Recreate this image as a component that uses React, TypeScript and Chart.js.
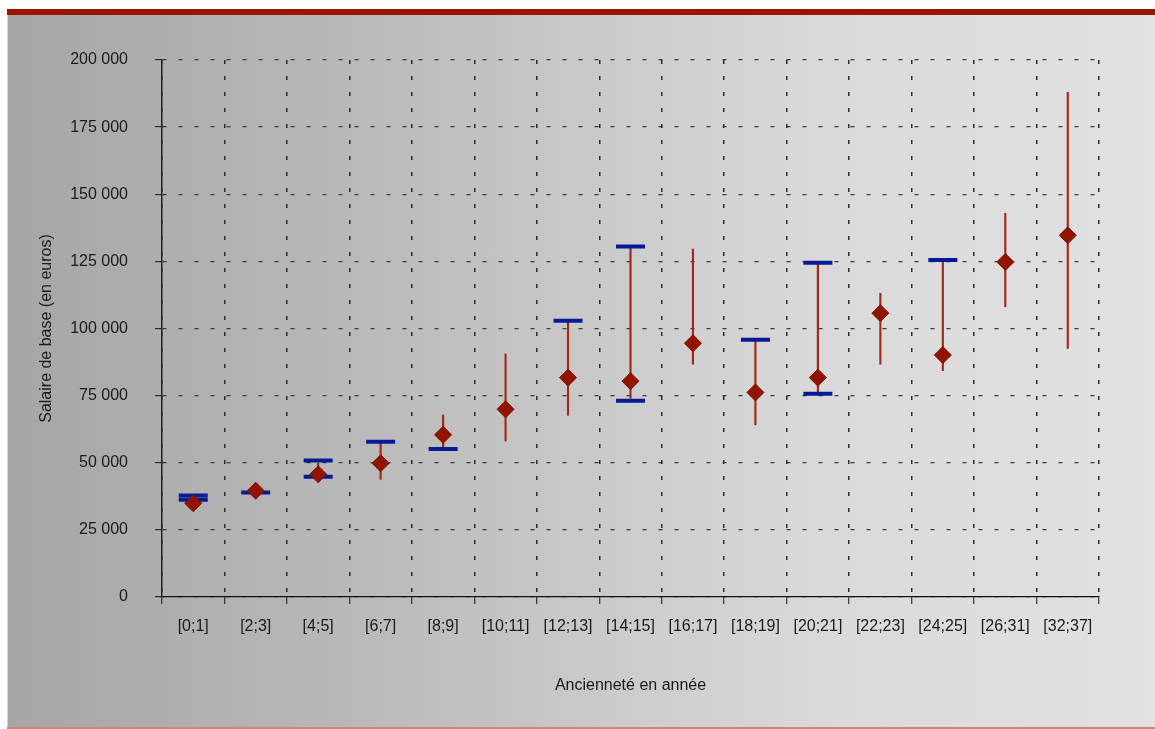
import React, { useEffect, useRef } from "react";
import { Chart, registerables } from "chart.js";

Chart.register(...registerables);

const categories = ["[0;1]", "[2;3]", "[4;5]", "[6;7]", "[8;9]", "[10;11]", "[12;13]", "[14;15]", "[16;17]", "[18;19]", "[20;21]", "[22;23]", "[24;25]", "[26;31]", "[32;37]"];
const moyenne = [34900, 39600, 45700, 49800, 60400, 69900, 81700, 80400, 94500, 76200, 81700, 105700, 90100, 124800, 134700];
const minimum = [null, null, 45000, 43800, 55500, 58100, 67700, 74000, 86700, 64100, 75700, 86700, 84300, 108100, 92600];
const maximum = [null, null, 49900, 57800, 67800, 90500, 102800, 130500, 129600, 95800, 124500, 113100, 125500, 142900, 188000];
const repereHaut = [37800, 38900, 50800, 57800, 55100, null, 102900, 130500, null, 95800, 124500, null, 125500, null, null];
const repereBas = [36200, null, 44800, null, null, null, null, 73100, null, null, 75700, null, null, null, null];
const yTicks = [0, 25000, 50000, 75000, 100000, 125000, 150000, 175000, 200000];

const FONT = "'Liberation Sans', Arial, sans-serif";
const fmt = (v: number) => String(v).replace(/\B(?=(\d{3})+(?!\d))/g, " ");

export default function App() {
  const ref = useRef<HTMLCanvasElement | null>(null);
  useEffect(() => {
    if (!ref.current) return;
    const ranges = categories.map((_, i) =>
      minimum[i] == null || maximum[i] == null ? null : [minimum[i] as number, maximum[i] as number]
    );
    const chart = new Chart(ref.current, {
      type: "bar",
      data: {
        labels: categories,
        datasets: [
          {
            type: "line",
            label: "Moyenne",
            data: moyenne,
            showLine: false,
            pointStyle: "rectRot",
            pointRadius: 8.5,
            backgroundColor: "#921400",
            borderColor: "#7e1000",
            borderWidth: 1,
            order: 0,
          } as any,
          {
            type: "line",
            label: "Repère haut",
            data: repereHaut,
            showLine: false,
            pointStyle: "line",
            pointRadius: 14.5,
            borderColor: "#061a96",
            borderWidth: 4,
            order: 1,
          } as any,
          {
            type: "line",
            label: "Repère bas",
            data: repereBas,
            showLine: false,
            pointStyle: "line",
            pointRadius: 14.5,
            borderColor: "#061a96",
            borderWidth: 4,
            order: 1,
          } as any,
          {
            type: "bar",
            label: "Étendue",
            data: ranges as any,
            backgroundColor: "#a3281a",
            barThickness: 1.5,
            order: 2,
          } as any,
        ],
      },
      options: {
        responsive: false,
        animation: false,
        layout: { padding: { left: 0, top: 60, right: 56, bottom: 0 } },
        plugins: { legend: { display: false }, tooltip: { enabled: false } },
        scales: {
          x: {
            type: "category",
            offset: true,
            grid: {
              offset: true,
              color: "#2a2a2a",
              lineWidth: 1.5,
              tickLength: 7,
              tickColor: "#111",
              tickWidth: 1,
              tickBorderDash: [],
            },
            border: { display: true, color: "#111", width: 1.2, dash: [4, 12] },
            ticks: { color: "#1a1a1a", font: { family: FONT, size: 16 }, padding: 13, maxRotation: 0, autoSkip: false },
            title: {
              display: true,
              text: "Ancienneté en année",
              color: "#1a1a1a",
              font: { family: FONT, size: 16 },
              padding: { top: 0, bottom: 34 },
            },
            afterFit: (s: any) => {
              s.height = 132;
            },
          },
          y: {
            min: 0,
            max: 200000,
            afterBuildTicks: (s: any) => {
              s.ticks = yTicks.map((v) => ({ value: v }));
            },
            grid: {
              color: "#3a3a3a",
              lineWidth: 1.3,
              tickLength: 7,
              tickColor: "#111",
              tickWidth: 1,
              tickBorderDash: [],
            },
            border: { display: true, color: "#222", width: 1.5, dash: [4, 12] },
            ticks: {
              color: "#1a1a1a",
              font: { family: FONT, size: 16 },
              padding: 27,
              callback: (v: any) => fmt(Number(v)),
            },
            title: {
              display: true,
              text: "Salaire de base (en euros)",
              color: "#1a1a1a",
              font: { family: FONT, size: 16 },
              padding: { top: 37, bottom: 0 },
            },
            afterFit: (s: any) => {
              s.width = 162;
            },
          },
        },
      },
    });
    return () => chart.destroy();
  }, []);

  return (
    <div style={{ position: "absolute", left: 0, top: 0, width: 1155, height: 729, background: "#fff", overflow: "hidden" }}>
      <div style={{ position: "absolute", left: 7, top: 9, width: 1148, height: 6, background: "#9a1500" }} />
      <div
        style={{
          position: "absolute",
          left: 7,
          top: 15,
          width: 1148,
          height: 712,
          background: "linear-gradient(to right, #a6a6a6 0%, #b9b9b9 30%, #cdcdcd 55%, #dadada 72%, #e1e1e1 100%)",
          boxShadow: "inset 1px 0 0 #d6d6d6",
        }}
      />
      <div style={{ position: "absolute", left: 7, top: 727, width: 1148, height: 2, background: "#c8897c" }} />
      <canvas ref={ref} width={1155} height={729} style={{ position: "absolute", left: 0, top: 0 }} />
    </div>
  );
}
